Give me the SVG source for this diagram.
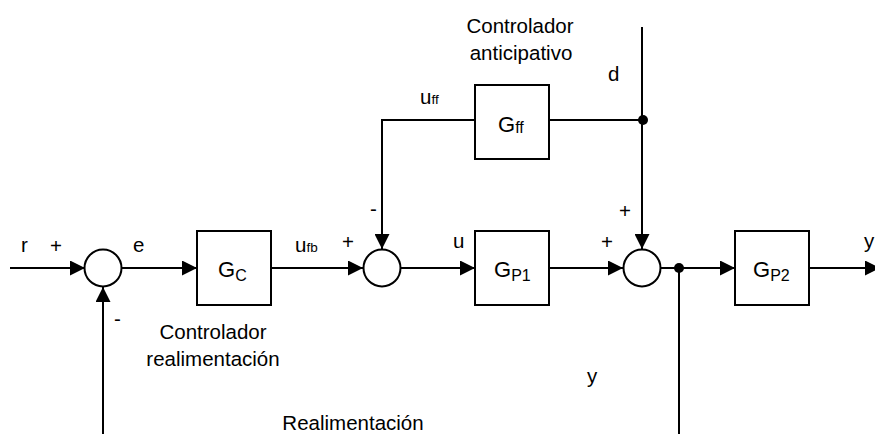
<svg xmlns="http://www.w3.org/2000/svg" width="875" height="434" viewBox="0 0 875 434">
<style>
.ln{fill:none;stroke:#000;stroke-width:2}
.box{fill:#fff;stroke:#000;stroke-width:2}
.sum{fill:#fff;stroke:#000;stroke-width:2}
text{font-family:"Liberation Sans",Arial,sans-serif;font-size:20.5px;fill:#000}
.g{font-size:22px}
.sub{font-size:16px}
.s{font-size:13.5px}
</style>
<defs>
<marker id="ah" markerUnits="userSpaceOnUse" markerWidth="15" markerHeight="15" refX="15" refY="7.5" orient="auto" viewBox="0 0 15 15">
<path d="M0,0 L15,7.5 L0,15 z" fill="#000"/>
</marker>
</defs>
<g id="connectors">
<path class="ln" d="M10,268 H85" marker-end="url(#ah)"/>
<path class="ln" d="M121,268 H197" marker-end="url(#ah)"/>
<path class="ln" d="M271,268 H363" marker-end="url(#ah)"/>
<path class="ln" d="M401,268 H475" marker-end="url(#ah)"/>
<path class="ln" d="M549,268 H623" marker-end="url(#ah)"/>
<path class="ln" d="M661,268 H735" marker-end="url(#ah)"/>
<path class="ln" d="M809,268 H880" marker-end="url(#ah)"/>
<path class="ln" d="M103,434 V287" marker-end="url(#ah)"/>
<path class="ln" d="M679,268 V434"/>
<path class="ln" d="M475,120 H382 V249" marker-end="url(#ah)"/>
<path class="ln" d="M549,120 H643"/>
<path class="ln" d="M642,27 V249" marker-end="url(#ah)"/>
<circle cx="643" cy="120" r="5" fill="#000"/>
<circle cx="679" cy="268" r="5" fill="#000"/>
</g>
<g id="sum1"><circle class="sum" cx="103" cy="268" r="18.5"/></g>
<g id="sum2"><circle class="sum" cx="382" cy="268" r="18.5"/></g>
<g id="sum3"><circle class="sum" cx="642" cy="268" r="18.5"/></g>
<g id="Gc">
<rect class="box" x="197" y="231" width="74" height="74"/>
<text x="218" y="277"><tspan class="g">G</tspan><tspan class="sub" dy="4">C</tspan></text>
</g>
<g id="Gp1">
<rect class="box" x="475" y="231" width="74" height="74"/>
<text x="494" y="277"><tspan class="g">G</tspan><tspan class="sub" dy="4">P1</tspan></text>
</g>
<g id="Gp2">
<rect class="box" x="735" y="231" width="74" height="74"/>
<text x="753" y="277"><tspan class="g">G</tspan><tspan class="sub" dy="4">P2</tspan></text>
</g>
<g id="Gff">
<rect class="box" x="475" y="85" width="74" height="74"/>
<text x="498" y="132"><tspan class="g">G</tspan><tspan class="sub" dy="1">ff</tspan></text>
</g>
<g id="labels">
<text x="21" y="252">r</text>
<text x="50" y="253">+</text>
<text x="133" y="252">e</text>
<text x="114" y="326">-</text>
<text x="295" y="252">u<tspan class="s">fb</tspan></text>
<text x="342" y="249">+</text>
<text x="453" y="248">u</text>
<text x="370" y="216">-</text>
<text x="420" y="104">u<tspan class="s">ff</tspan></text>
<text x="608" y="81">d</text>
<text x="520" y="33" text-anchor="middle">Controlador</text>
<text x="521" y="60" text-anchor="middle">anticipativo</text>
<text x="619" y="218">+</text>
<text x="601" y="249">+</text>
<text x="864" y="248">y</text>
<text x="213" y="339" text-anchor="middle">Controlador</text>
<text x="213" y="366" text-anchor="middle">realimentación</text>
<text x="587" y="383">y</text>
<text x="353" y="430" text-anchor="middle">Realimentación</text>
</g>
</svg>
